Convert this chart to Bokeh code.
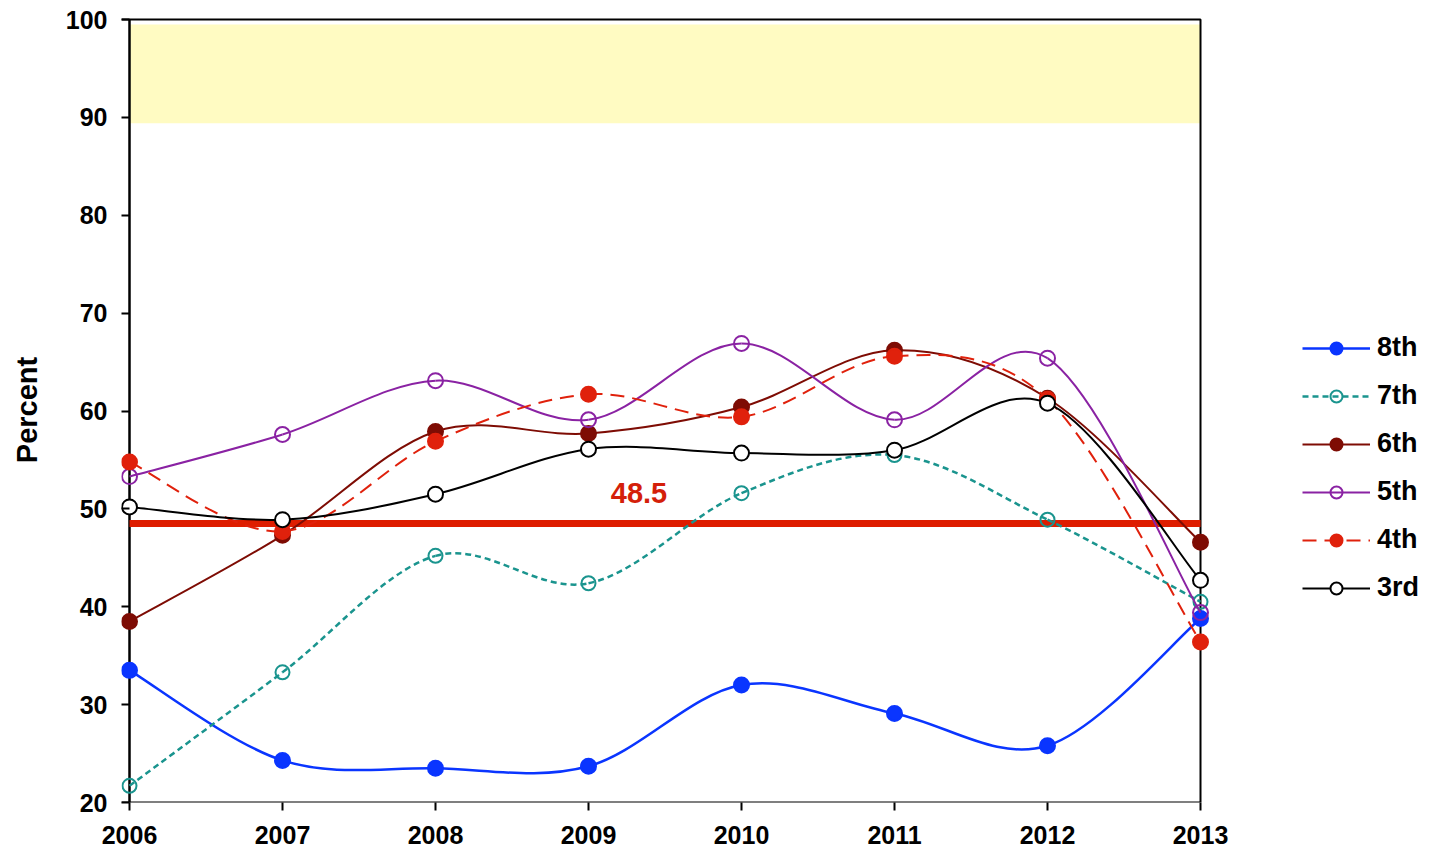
from bokeh.plotting import figure
from bokeh.models import FixedTicker, Legend, LegendItem, ColumnDataSource, Range1d
from bokeh.embed import file_html
from bokeh.resources import INLINE
from bokeh.core.properties import value

# ---- data ----
years = [2006, 2007, 2008, 2009, 2010, 2011, 2012, 2013]
y_ticks = [20, 30, 40, 50, 60, 70, 80, 90, 100]

grade_8th = [33.5, 24.3, 23.5, 23.7, 32.0, 29.1, 25.8, 38.8]
grade_7th = [21.7, 33.3, 45.2, 42.4, 51.6, 55.5, 48.9, 40.5]
grade_6th = [38.5, 47.3, 57.9, 57.7, 60.4, 66.2, 61.3, 46.6]
grade_5th = [53.3, 57.6, 63.1, 59.1, 66.9, 59.1, 65.4, 39.4]
grade_4th = [54.8, 47.7, 56.9, 61.7, 59.4, 65.6, 61.2, 36.4]
grade_3rd = [50.2, 48.9, 51.5, 56.1, 55.7, 56.0, 60.8, 42.7]

target_line = 48.5
target_label = "48.5"
band_low, band_high = 89.4, 99.5

FONT = "Liberation Sans"

# ---- geometry (pixels) ----
W, H = 1429, 851
data_left, data_right = 129, 1200      # canvas x of first / last year
data_top, data_bottom = 19, 802        # canvas y of 100 / 20
pad_l, pad_t = 8, 2
xs_per_px = (years[-1] - years[0]) / (data_right - data_left)
ys_per_px = (y_ticks[-1] - y_ticks[0]) / (data_bottom - data_top)
x0 = years[0] - pad_l * xs_per_px
x1 = years[-1] + (W - data_right) * xs_per_px
y0 = y_ticks[0]
y1 = y_ticks[-1] + pad_t * ys_per_px

p = figure(width=W, height=H, output_backend="svg", toolbar_location=None,
           x_range=Range1d(x0, x1), y_range=Range1d(y0, y1),
           min_border_left=data_left - pad_l, min_border_right=0,
           min_border_top=data_top - pad_t, min_border_bottom=H - data_bottom)
p.xgrid.visible = False
p.ygrid.visible = False
p.outline_line_color = None
p.background_fill_color = "white"
p.border_fill_color = "white"

# yellow band
p.quad(left=[years[0]], right=[years[-1]], bottom=[band_low], top=[band_high],
       fill_color="#FFFBC2", line_color=None)

# plot box
p.line(x=[x0, years[-1], years[-1], x0], y=[y_ticks[0], y_ticks[0], y_ticks[-1], y_ticks[-1]],
       line_color="black", line_width=2)
p.line(x=[years[0], years[0]], y=[y_ticks[0], y_ticks[-1]], line_color="black", line_width=2.5)

# axes styling
for ax in (p.xaxis[0], p.yaxis[0]):
    ax.axis_line_color = None
    ax.major_tick_line_width = 2
    ax.major_tick_line_color = "black"
    ax.minor_tick_line_color = None
    ax.major_label_text_font = FONT
    ax.major_label_text_font_style = "bold"
    ax.major_label_text_font_size = "25px"
    ax.major_label_text_color = "black"

p.xaxis.major_tick_in = 0
p.xaxis.major_tick_out = 8
p.yaxis.major_tick_in = pad_l
p.yaxis.major_tick_out = 0

p.xaxis.ticker = FixedTicker(ticks=years)
p.xaxis.major_label_overrides = {y: str(y) for y in years}
p.xaxis.major_label_standoff = 15
p.yaxis.ticker = FixedTicker(ticks=y_ticks)
p.yaxis.major_label_overrides = {t: str(t) for t in y_ticks}
p.yaxis.major_label_standoff = 14
p.yaxis.axis_label = "Percent"
p.yaxis.axis_label_text_font = FONT
p.yaxis.axis_label_text_font_style = "bold"
p.yaxis.axis_label_text_font_size = "29px"
p.yaxis.axis_label_text_color = "black"
p.yaxis.axis_label_standoff = 20


def smooth_segments(xs, ys):
    n = len(xs)
    out = dict(x0=[], y0=[], x1=[], y1=[], cx0=[], cy0=[], cx1=[], cy1=[])
    for i in range(n - 1):
        a = i - 1 if i > 0 else i
        d = i + 2 if i + 2 < n else i + 1
        out["x0"].append(xs[i]); out["y0"].append(ys[i])
        out["x1"].append(xs[i + 1]); out["y1"].append(ys[i + 1])
        out["cx0"].append(xs[i] + (xs[i + 1] - xs[a]) / 6)
        out["cy0"].append(ys[i] + (ys[i + 1] - ys[a]) / 6)
        out["cx1"].append(xs[i + 1] - (xs[d] - xs[i]) / 6)
        out["cy1"].append(ys[i + 1] - (ys[d] - ys[i]) / 6)
    return out


# target line
p.line(x=[years[0], years[-1]], y=[target_line, target_line], line_color="#DE1D00", line_width=7)
p.text(x=[2009.33], y=[51.6], text=[target_label], text_font=value(FONT), text_font_style="bold",
       text_font_size="29px", text_color="#D41F0A", text_align="center", text_baseline="alphabetic")

series = [
    ("8th", grade_8th, "#0A35FF", None, 2.5, "#0A35FF", 1.0, 15),
    ("7th", grade_7th, "#1A948E", "6 4", 2.5, "#1A948E", 0.0, 14),
    ("6th", grade_6th, "#7E0C04", None, 2, "#7E0C04", 1.0, 15),
    ("5th", grade_5th, "#8A22A3", None, 2, "#8A22A3", 0.0, 15),
    ("4th", grade_4th, "#E0210C", "14 8", 2, "#E0210C", 1.0, 15),
    ("3rd", grade_3rd, "#000000", None, 2, "white", 1.0, 15),
]

nan = float("nan")
items = []
for name, vals, color, dash, lw, fill, falpha, msize in series:
    segs = smooth_segments(years, vals)
    kw = dict(line_color=color, line_width=lw)
    if dash:
        kw["line_dash"] = dash
    p.bezier(source=ColumnDataSource(segs), x0="x0", y0="y0", x1="x1", y1="y1",
             cx0="cx0", cy0="cy0", cx1="cx1", cy1="cy1", **kw)
    # legend-only line sample (no visible data)
    leg_line = p.line(x=[nan], y=[nan], **kw)
    mk = p.scatter(x=years, y=vals, size=msize, marker="circle", line_color=color,
                   line_width=2, fill_color=fill, fill_alpha=falpha)
    items.append(LegendItem(label=name, renderers=[leg_line, mk]))

legend = Legend(items=items, location=(1302 - (data_left - pad_l), 199), orientation="vertical",
                glyph_width=68, glyph_height=30, label_height=30, spacing=17,
                label_standoff=7, padding=0, margin=0,
                label_text_font=FONT, label_text_font_style="bold", label_text_font_size="27px",
                label_text_color="black",
                border_line_color=None, background_fill_alpha=0)
p.add_layout(legend, "center")

open("out.html", "w").write(file_html(p, INLINE))
